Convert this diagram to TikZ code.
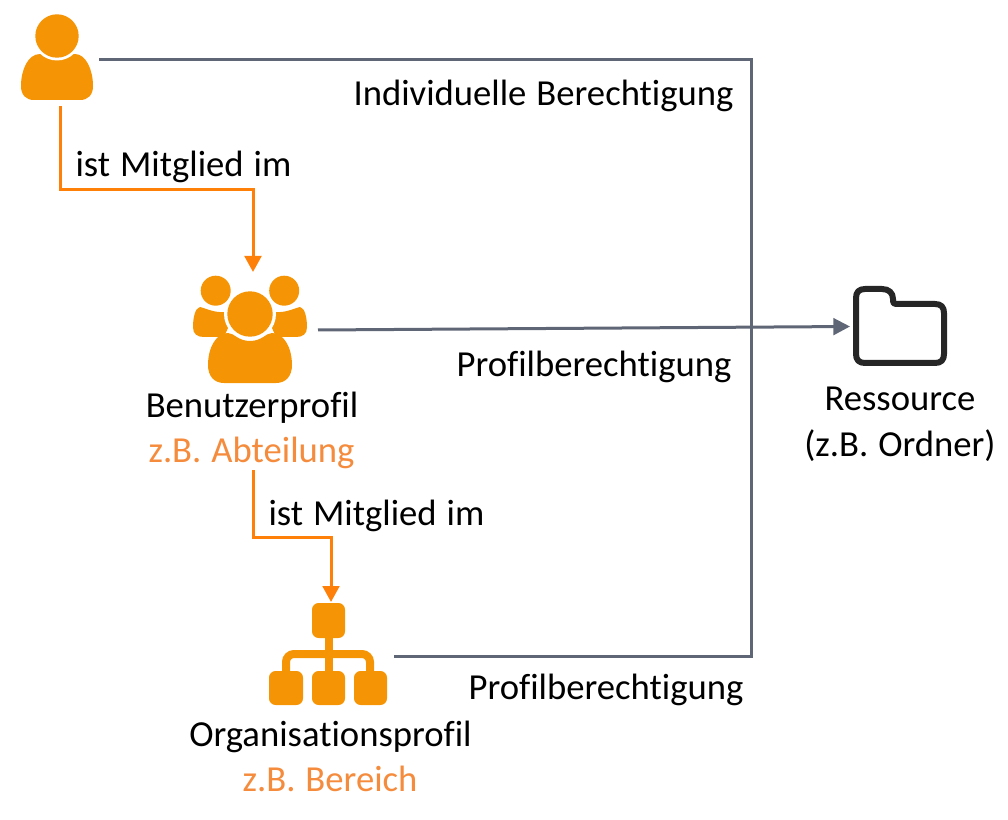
\documentclass[tikz,border=0pt]{standalone}
\usepackage{fontspec}
\setmainfont{Carlito}[WordSpace=1.2,Ligatures=NoCommon]
\usetikzlibrary{arrows.meta}
\definecolor{iconorange}{HTML}{F59505}
\definecolor{lineorange}{HTML}{FF8008}
\definecolor{textorange}{HTML}{F58B3C}
\definecolor{linegrey}{HTML}{5F6675}
\definecolor{foldergrey}{HTML}{262626}
\tikzset{
  lbl/.style={inner sep=0pt,outer sep=0pt,anchor=base,font=\fontsize{27.5}{32}\selectfont,text=black},
  lblor/.style={lbl,text=textorange},
  greyline/.style={draw=linegrey,line width=2.25pt,line join=miter},
  orangeline/.style={draw=lineorange,line width=2.25pt,line join=miter},
  tipgrey/.style={-{Triangle[length=12.5pt,width=12.5pt,color=linegrey]}},
  tiporange/.style={-{Triangle[length=12pt,width=12.5pt,color=lineorange]}},
  icon/.style={fill=iconorange,draw=none},
  gap/.style={fill=white,draw=none}
}
\begin{document}
\begin{tikzpicture}[x=0.75pt,y=-0.75pt]
\useasboundingbox (0,0) rectangle (1008,820);
% single user icon
\path[icon] (21,86) .. controls (21,70) and (28,54) .. (40,54) .. controls (44,54) and (46,55) .. (47,56)
  -- (67,56) .. controls (69,55) and (71,54) .. (75,54) .. controls (86,54) and (93,70) .. (93,86)
  .. controls (93,95) and (88,100) .. (80,100) -- (34,100) .. controls (26,100) and (21,95) .. (21,86) -- cycle;
\path[gap] (57,36) circle (24.5);
\path[icon] (57,36) circle (21.7);
% group icon
\path[icon] (193,327) .. controls (193,318) and (195,308) .. (200,307) .. controls (208,309) and (214,313) .. (226,312)
  -- (228,328) -- (224,337) -- (204,337) .. controls (197,337) and (193,334) .. (193,327) -- cycle;
\path[icon] (307,327) .. controls (307,318) and (305,308) .. (300,307) .. controls (292,309) and (286,313) .. (274,312)
  -- (272,328) -- (276,337) -- (296,337) .. controls (303,337) and (307,334) .. (307,327) -- cycle;
\path[icon] (215.7,290.7) circle (15);
\path[icon] (284.2,290.7) circle (15);
\path[gap] (250,314) circle (26);
\path[gap] (228,329) .. controls (234,329) and (238,337) .. (250,337) .. controls (262,337) and (266,329) .. (272,329) -- (272,345) -- (228,345) -- cycle;
\path[icon] (250,314) circle (22.7);
\path[icon] (208,365) .. controls (208,348) and (216,333) .. (228,333) .. controls (234,333) and (238,341) .. (250,341)
  .. controls (262,341) and (266,333) .. (272,333) .. controls (284,333) and (292,348) .. (292,365)
  .. controls (292,376) and (286,383) .. (276,383) -- (224,383) .. controls (214,383) and (208,376) .. (208,365) -- cycle;
% organisation icon
\path[icon,rounded corners=5pt] (312,603) rectangle (345,638);
\path[icon,rounded corners=5pt] (269,671) rectangle (303,705);
\path[icon,rounded corners=5pt] (312,671) rectangle (345,705);
\path[icon,rounded corners=5pt] (354,671) rectangle (387,705);
\path[draw=iconorange,line width=6pt] (328.5,635) -- (328.5,675);
\path[draw=iconorange,line width=6pt,rounded corners=6pt] (286,675) -- (286,654) -- (370,654) -- (370,675);
% folder icon
\path[draw=foldergrey,line width=4.5pt,line join=round,fill=white]
  (856,298) .. controls (856,292) and (859,289) .. (865,289) -- (882,289)
  .. controls (889,289) and (893,293) .. (893,299) -- (893,301) .. controls (893,303) and (894,304) .. (896,304)
  -- (935,304) .. controls (941,304) and (944,307) .. (944,313) -- (944,354)
  .. controls (944,360) and (941,363) .. (935,363) -- (865,363)
  .. controls (859,363) and (856,360) .. (856,354) -- cycle;
% icon anchors
\node[inner sep=0pt,minimum width=54pt,minimum height=65pt] (user) at (57,57) {};
\node[inner sep=0pt,minimum width=85pt,minimum height=84pt] (group) at (250,331) {};
\node[inner sep=0pt,minimum width=89pt,minimum height=77pt] (org) at (328,654) {};
\node[inner sep=0pt,minimum width=70pt,minimum height=60pt] (folder) at (900,326) {};
% connector ends
\coordinate (uOut) at (99,60);
\coordinate (uDown) at (60,106);
\coordinate (turnA) at (751,60);
\coordinate (turnB) at (751,656);
\coordinate (oOut) at (394,656);
\coordinate (gOut) at (318,330);
\coordinate (fIn) at (850,326.5);
\coordinate (gIn) at (253,272);
\coordinate (gDown) at (253,470);
\coordinate (oIn) at (331,602);
\coordinate (b1) at (60,189.5);
\coordinate (b2) at (253,189.5);
\coordinate (b3) at (253,537);
\coordinate (b4) at (331,537);
% connectors
\draw[greyline] (uOut) -- (turnA) -- (turnB) -- (oOut);
\draw[greyline,tipgrey] (gOut) -- (fIn);
\draw[orangeline,tiporange] (uDown) -- (b1) -- (b2) -- (gIn);
\draw[orangeline,tiporange] (gDown) -- (b3) -- (b4) -- (oIn);
% labels
\node[lbl] (t1) at (543.5,105.5) {Individuelle Berechtigung};
\node[lbl] (t2) at (183.5,177) {ist Mitglied im};
\node[lbl] (t3) at (594,377) {Profilberechtigung};
\node[lbl] (t4) at (252,417) {Benutzerprofil};
\node[lblor] (t5) at (251.5,462) {z.B. Abteilung};
\node[lbl] (t6) at (376.5,525) {ist Mitglied im};
\node[lbl] (t7) at (606,699) {Profilberechtigung};
\node[lbl] (t8) at (330.5,746) {Organisationsprofil};
\node[lblor] (t9) at (330,791) {z.B. Bereich};
\node[lbl] (t10) at (900,411) {Ressource};
\node[lbl] (t11) at (900,456) {(z.B. Ordner)};
\end{tikzpicture}
\end{document}
